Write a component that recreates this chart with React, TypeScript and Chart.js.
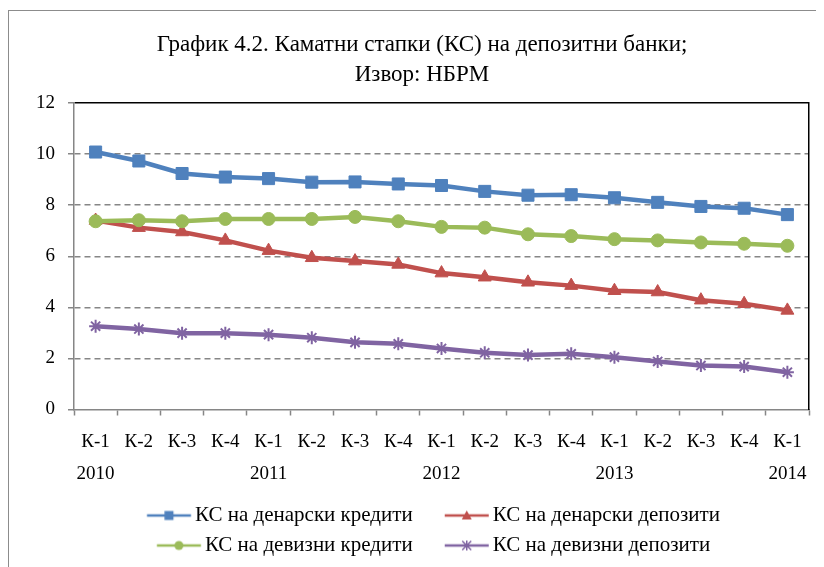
import React, { useEffect, useRef } from "react";
import { Chart, registerables } from "chart.js";

Chart.register(...registerables);

const quarters = ["К-1", "К-2", "К-3", "К-4", "К-1", "К-2", "К-3", "К-4", "К-1", "К-2", "К-3", "К-4", "К-1", "К-2", "К-3", "К-4", "К-1"];
const years = ["2010", "", "", "", "2011", "", "", "", "2012", "", "", "", "2013", "", "", "", "2014"];

const seriesNames = [
  "КС на денарски кредити",
  "КС на денарски депозити",
  "КС на девизни кредити",
  "КС на девизни депозити",
];

const denarCredits = [10.08, 9.73, 9.24, 9.1, 9.04, 8.9, 8.91, 8.83, 8.77, 8.54, 8.39, 8.41, 8.29, 8.11, 7.95, 7.88, 7.63];
const denarDeposits = [7.4, 7.12, 6.95, 6.62, 6.22, 5.94, 5.81, 5.68, 5.34, 5.18, 4.98, 4.85, 4.65, 4.6, 4.28, 4.14, 3.88];
const devizCredits = [7.37, 7.41, 7.37, 7.46, 7.46, 7.46, 7.54, 7.37, 7.15, 7.12, 6.86, 6.79, 6.67, 6.62, 6.54, 6.49, 6.41];
const devizDeposits = [3.26, 3.15, 2.99, 2.99, 2.93, 2.81, 2.63, 2.57, 2.39, 2.22, 2.13, 2.18, 2.05, 1.88, 1.72, 1.68, 1.46];

const yTickValues = [0, 2, 4, 6, 8, 10, 12];

const titleLines = ["График 4.2. Каматни стапки (КС) на депозитни банки;", "Извор: НБРМ"];

const seriesData = [denarCredits, denarDeposits, devizCredits, devizDeposits];
const colors = ["#4F81BD", "#C0504D", "#9BBB59", "#8064A2"];
const markerStyles = ["rect", "triangle", "circle", "star"];
const markerRadii = [8.5, 7.5, 6.5, 6.5];

const FONT = "'Liberation Serif', 'Times New Roman', serif";
const GREY = "#868686";
const LEGEND_FONT = 21;
const LEGEND_BOX = 60.5;
const ICON_W = 84;
const LINE_LEN = 44;

function makeLegendIcon(color: string, style: string): HTMLCanvasElement {
  const c = document.createElement("canvas");
  c.width = ICON_W;
  c.height = 14;
  const g = c.getContext("2d")!;
  const cy = 7;
  // text starts at box + LEGEND_BOX + font/2; icon centre sits at box + LEGEND_BOX/2
  const textStart = ICON_W / 2 + LEGEND_BOX / 2 + LEGEND_FONT / 2;
  const x1 = textStart - 4;
  const x0 = x1 - LINE_LEN;
  const cx = (x0 + x1) / 2;
  g.strokeStyle = color;
  g.lineWidth = 2.5;
  g.beginPath();
  g.moveTo(x0, cy);
  g.lineTo(x1, cy);
  g.stroke();
  g.fillStyle = color;
  if (style === "rect") {
    g.fillRect(cx - 4.5, cy - 4.5, 9, 9);
  } else if (style === "triangle") {
    g.beginPath();
    g.moveTo(cx, cy - 5);
    g.lineTo(cx + 5, cy + 4);
    g.lineTo(cx - 5, cy + 4);
    g.closePath();
    g.fill();
  } else if (style === "circle") {
    g.beginPath();
    g.arc(cx, cy, 4.5, 0, Math.PI * 2);
    g.fill();
  } else {
    g.lineWidth = 1.5;
    g.beginPath();
    g.moveTo(cx, cy - 5);
    g.lineTo(cx, cy + 5);
    g.moveTo(cx - 4.5, cy - 4.5);
    g.lineTo(cx + 4.5, cy + 4.5);
    g.moveTo(cx + 4.5, cy - 4.5);
    g.lineTo(cx - 4.5, cy + 4.5);
    g.stroke();
  }
  return c;
}

export default function App() {
  const canvasRef = useRef<HTMLCanvasElement | null>(null);

  useEffect(() => {
    document.documentElement.style.overflow = "hidden";
    const canvas = canvasRef.current;
    if (!canvas) return;
    const icons = colors.map((c, i) => makeLegendIcon(c, markerStyles[i]));
    const labels = quarters.map((q, i) => [q, years[i]]);

    const chart = new Chart(canvas, {
      type: "line",
      data: {
        labels,
        datasets: seriesNames.map((name, i) => ({
          label: name,
          data: seriesData[i],
          borderColor: colors[i],
          backgroundColor: colors[i],
          borderWidth: 4.5,
          tension: 0,
          pointStyle: markerStyles[i] as any,
          pointRadius: markerRadii[i],
          pointBorderWidth: i === 3 ? 2 : 1,
          pointBackgroundColor: colors[i],
          pointBorderColor: colors[i],
          order: 4 - i,
          yAxisID: "y",
        })),
      },
      options: {
        animation: false,
        responsive: false,
        devicePixelRatio: 1,
        layout: { padding: 0 },
        plugins: {
          title: {
            display: true,
            text: titleLines,
            color: "#000",
            font: { family: FONT, size: 23, weight: "normal", lineHeight: "30px" },
            padding: { top: 19, bottom: 13 },
          },
          legend: {
            position: "bottom",
            fullSize: true,
            labels: {
              usePointStyle: true,
              pointStyleWidth: LEGEND_BOX,
              padding: 9,
              color: "#000",
              font: { family: FONT, size: LEGEND_FONT },
              sort: (a: any, b: any) => a.datasetIndex - b.datasetIndex,
              generateLabels: (ch: any) => {
                const items = (Chart.defaults.plugins.legend.labels as any).generateLabels(ch);
                return items.map((it: any) => ({ ...it, pointStyle: icons[it.datasetIndex] }));
              },
            },
          },
          tooltip: { enabled: false },
        },
        scales: {
          x: {
            type: "category",
            offset: true,
            grid: {
              offset: true,
              drawOnChartArea: false,
              drawTicks: true,
              tickLength: 6,
              tickColor: GREY,
              tickWidth: 1.5,
            },
            border: { color: GREY, width: 1.5 },
            ticks: {
              color: "#000",
              font: { family: FONT, size: 19, lineHeight: "32px" },
              padding: 11,
              maxRotation: 0,
              autoSkip: false,
            },
            afterFit: (s: any) => {
              s.height = 86.5;
            },
          },
          y: {
            min: 0,
            max: 12,
            afterBuildTicks: (s: any) => {
              s.ticks = yTickValues.map((v) => ({ value: v }));
            },
            ticks: {
              color: "#000",
              font: { family: FONT, size: 19 },
              padding: 13,
            },
            grid: {
              color: (ctx: any) =>
                ctx.tick && ctx.tick.value === 12 ? "#000" : ctx.tick && ctx.tick.value === 0 ? "rgba(0,0,0,0)" : GREY,
              lineWidth: 1.5,
              tickLength: 6,
              tickColor: GREY,
              tickWidth: 1.5,
            },
            border: {
              color: GREY,
              width: 1.5,
              dash: (ctx: any) => (ctx.tick && ctx.tick.value === 12 ? [] : [6, 4]),
            },
            afterFit: (s: any) => {
              s.width = 65;
            },
          },
          y2: {
            position: "right",
            min: 0,
            max: 12,
            grid: { drawOnChartArea: false, drawTicks: false },
            ticks: { display: false },
            border: { color: "#000", width: 1.5 },
            afterFit: (s: any) => {
              s.width = 26;
            },
          },
        },
      },
    });
    return () => chart.destroy();
  }, []);

  return (
    <div
      style={{
        marginTop: 2,
        width: 816,
        height: 556,
        overflow: "hidden",
        borderLeft: "1px solid #8c8c8c",
        borderTop: "1px solid #8c8c8c",
        background: "#fff",
      }}
    >
      <canvas ref={canvasRef} width={826} height={555} style={{ display: "block" }} />
    </div>
  );
}
